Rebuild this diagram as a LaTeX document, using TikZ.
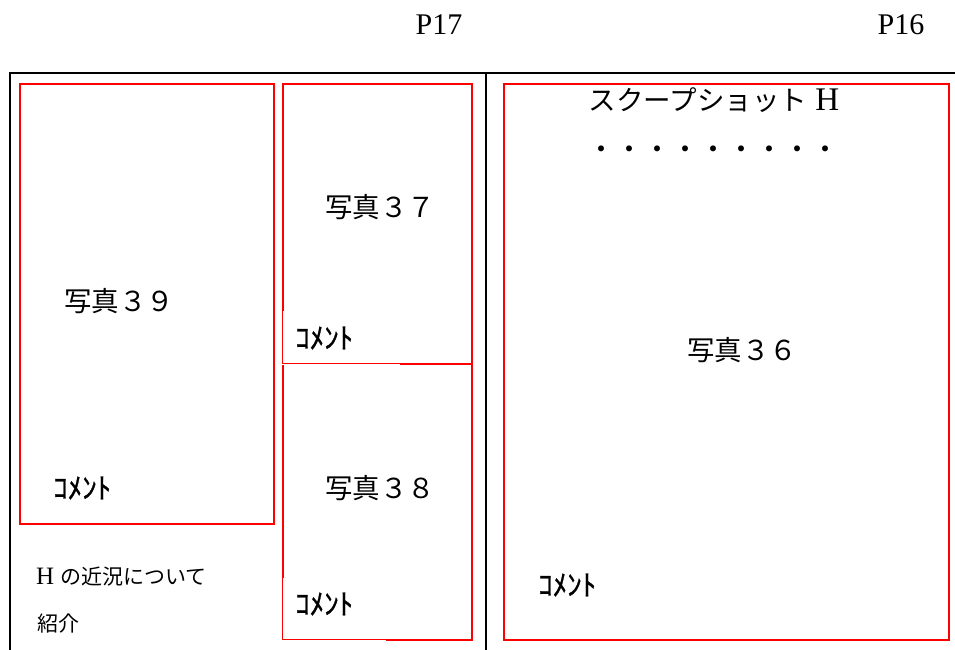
\documentclass[tikz,border=0pt]{standalone}
\usepackage{fontspec}
\setmainfont{Liberation Serif}
\newfontfamily\jp{Noto Sans CJK JP}
\newfontfamily\jpb[FakeBold=0.9]{Noto Sans CJK JP}
\begin{document}
\begin{tikzpicture}[x=1pt,y=-1pt,
  redbox/.style={draw=red, line width=2pt, inner sep=0pt, anchor=north west},
  framestyle/.style={draw=black, line width=2pt},
  thinred/.style={draw=red, line width=1pt},
  photo/.style={font=\jp\fontsize{27.5}{30}\selectfont, inner sep=0pt},
  cmt/.style={font=\jpb\fontsize{29}{30}\selectfont, anchor=west, inner sep=0pt},
  page/.style={font=\fontsize{30}{34}\selectfont, inner sep=0pt},
  note/.style={font=\fontsize{21}{24}\selectfont, anchor=west, inner sep=0pt}]
\useasboundingbox (0,0) rectangle (955,650);
% frame
\coordinate (ftl) at (10,73);
\coordinate (ftr) at (955,73);
\coordinate (fbl) at (10,650);
\coordinate (mt) at (486,73);
\coordinate (mb) at (486,650);
\draw[framestyle] (fbl) -- (ftl) -- (ftr);
\draw[framestyle] (mt) -- (mb);
% page numbers
\node[page] (p17) at (439,25) {P17};
\node[page] (p16) at (901,25) {P16};
% red boxes
\node[redbox, minimum width=254pt, minimum height=440pt] (b39) at (19,83) {};
\node[redbox, minimum width=189pt, minimum height=280pt] (b37) at (282,83) {};
\node[redbox, minimum width=189pt, minimum height=276pt] (b38) at (282,363) {};
\node[redbox, minimum width=445pt, minimum height=556pt] (b36) at (503,83) {};
% comment covers with thin borders
\fill[white] (280.5,311) rectangle (400,364.5);
\draw[thinred] (282.5,311) -- (282.5,363.5) -- (400,363.5);
\fill[white] (280.5,578) rectangle (386,640.5);
\draw[thinred] (282.5,578) -- (282.5,639.5) -- (386,639.5);
% labels
\node[photo] (t39) at (119,301) {写真３９};
\node[photo] (t37) at (380,207) {写真３７};
\node[photo] (t38) at (380,488) {写真３８};
\node[photo] (t36) at (742,350) {写真３６};
\node[photo, font=\fontsize{33}{36}\selectfont] (title) at (714,100) {{\jp\fontsize{27.5}{30}\selectfont スクープショット} H};
\node[photo, font=\jp\fontsize{28}{30}\selectfont] (dots) at (713,153) {・・・・・・・・・};
\node[cmt] (c37) at (295,338) {ｺﾒﾝﾄ};
\node[cmt] (c39) at (53,488) {ｺﾒﾝﾄ};
\node[cmt] (c38) at (295,604) {ｺﾒﾝﾄ};
\node[cmt] (c36) at (538,585) {ｺﾒﾝﾄ};
\node[note] (n1) at (36,577) {\fontsize{25}{28}\selectfont H {\jp\fontsize{21}{24}\selectfont の近況について}};
\node[note] (n2) at (37,624) {\jp 紹介};
\end{tikzpicture}
\end{document}
